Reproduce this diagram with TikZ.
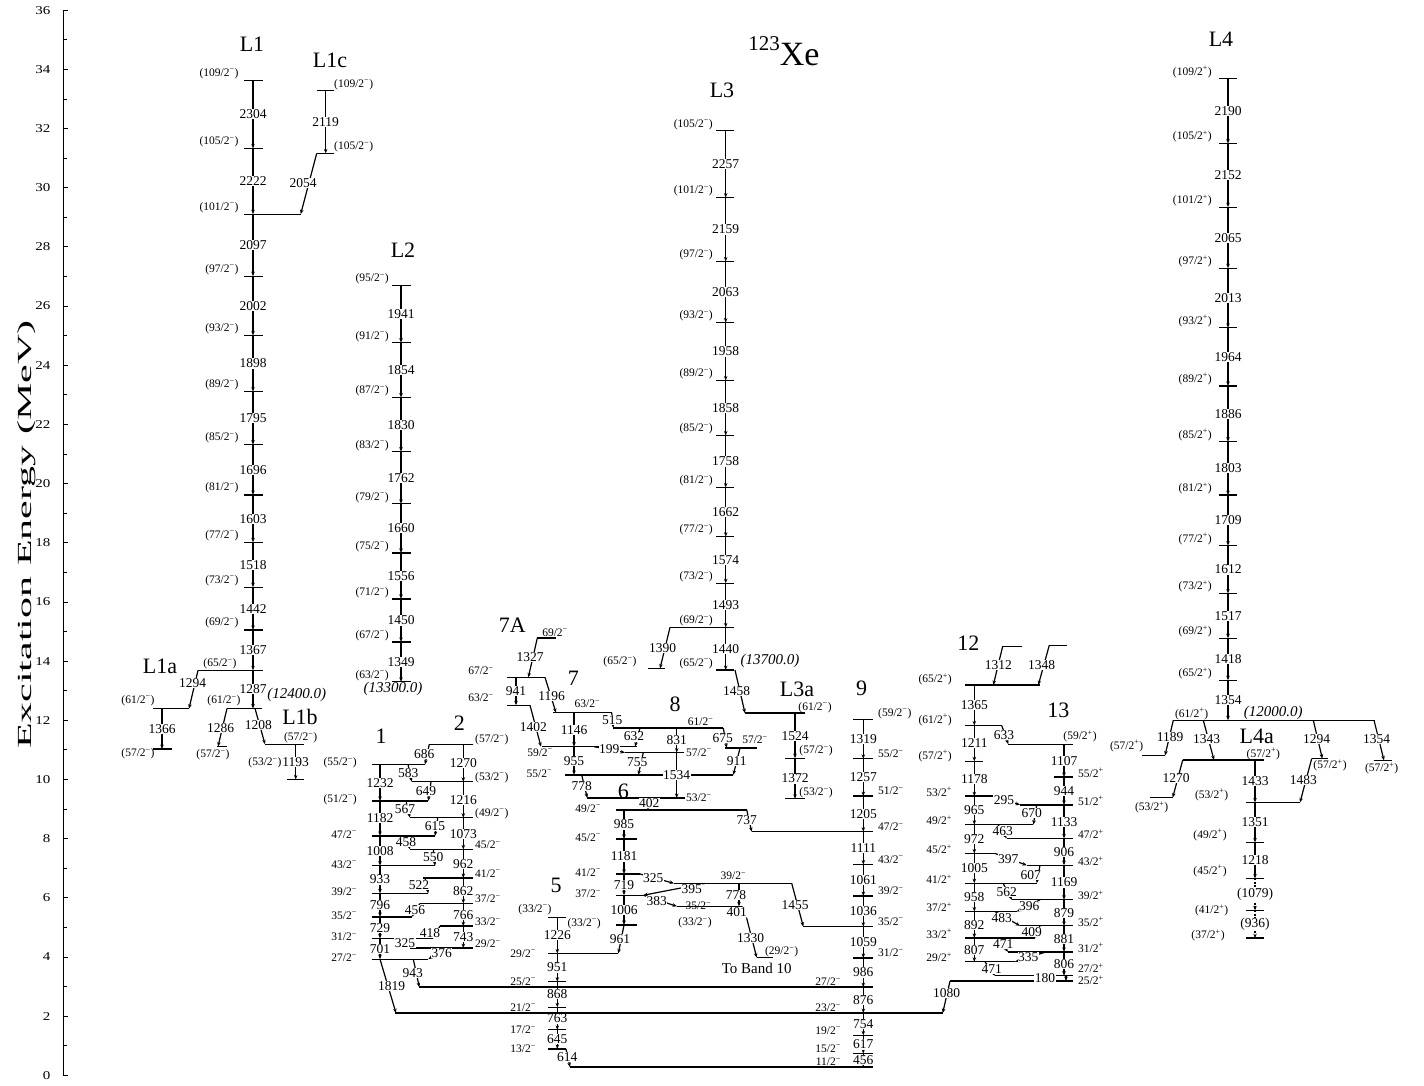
\documentclass[tikz,border=0pt]{standalone}
\usepackage{fontspec}
\setmainfont{Liberation Serif}
\usetikzlibrary{arrows.meta}
\newcommand{\spn}{\textsuperscript{−}}
\newcommand{\spp}{\textsuperscript{+}}
\newcounter{nc}
\pgfdeclarelayer{fg}
\pgfsetlayers{main,fg}
\tikzset{
  every picture/.style={line width=1.2pt},
  lvl/.style={line width=1.3pt},
  gam/.style={line width=1.2pt, -{Stealth[length=4.5pt,width=3.5pt]}},
  tgam/.style={gam, dash pattern=on 2pt off 1.5pt},
  glab/.style={font=\fontsize{13.5}{14}\selectfont, fill=white, inner sep=0.5pt},
  spin/.style={font=\fontsize{11.5}{12}\selectfont, inner sep=1pt},
  bandlab/.style={font=\fontsize{22}{24}\selectfont, inner sep=0pt},
  elab/.style={font=\fontsize{15}{16}\selectfont\itshape, inner sep=0pt},
  ticklab/.style={font=\fontsize{12}{13}\selectfont, inner sep=1pt},
}

\begin{document}
\begin{tikzpicture}[x=1pt, y=29.59pt]
  \useasboundingbox (0,-0.325) rectangle (1424,36.343);
  % level: #1 x-left, #2 x-right, #3 energy
  \newcommand{\lv}[3]{\draw[lvl] (#1,#3) -- (#2,#3);}
  % in-band gamma: #1 x, #2 upper, #3 lower, #4 label
  \newcommand{\gv}[4]{\draw[gam] (#1,#2) -- (#1,#3);
    \stepcounter{nc}\begin{pgfonlayer}{fg}\node[glab] (n\arabic{nc}) at (#1,{(#2+#3)/2}) {#4};\end{pgfonlayer}}
  \newcommand{\gt}[4]{\draw[tgam] (#1,#2) -- (#1,#3);
    \stepcounter{nc}\begin{pgfonlayer}{fg}\node[glab] (n\arabic{nc}) at (#1,{(#2+#3)/2}) {#4};\end{pgfonlayer}}
  % linking gamma: from (#1,#2) to (#3,#4), label #5 at (#6,#7)
  \newcommand{\gx}[7]{\draw[gam] (#1,#2) -- (#3,#4);
    \stepcounter{nc}\begin{pgfonlayer}{fg}\node[glab] (n\arabic{nc}) at (#6,#7) {#5};\end{pgfonlayer}}
  \newcommand{\spL}[3]{\stepcounter{nc}\node[spin, anchor=south east] (n\arabic{nc}) at (#1,#2) {#3};}
  \newcommand{\spR}[3]{\stepcounter{nc}\node[spin, anchor=south west] (n\arabic{nc}) at (#1,#2) {#3};}
  \newcommand{\spC}[3]{\stepcounter{nc}\node[spin] (n\arabic{nc}) at (#1,#2) {#3};}

  % axis
  \draw[line width=1pt] (63,0) -- (63,36);
  \foreach \e in {0,2,...,36} {
    \draw[line width=0.8pt] (63,\e) -- (68,\e);
    \node[ticklab, anchor=east] (t\e) at (52,\e) {\scalebox{1.25}[1]{\e}};
  }
  \foreach \e in {1,3,...,35} \draw[line width=0.8pt] (63,\e) -- (67,\e);
  \node[rotate=90, font=\fontsize{20}{22}\selectfont] (ylab) at (27,18.27) {\scalebox{2.1}[1]{Excitation Energy (MeV)}};
  \node[font=\fontsize{34}{36}\selectfont] (title) at (784,34.6) {\raisebox{0.45em}{\fontsize{21}{22}\selectfont 123}Xe};

  % band names
  \foreach \x/\e/\t in {252/34.85/L1, 330/34.3/L1c, 403/27.9/L2, 722/33.30/L3, 1221/35.0/L4,
      160/13.81/L1a, 300/12.12/L1b, 797/13.06/L3a, 1256.7/11.47/L4a, 381/11.45/1, 459.3/11.9/2,
      556/6.43/5, 623.3/9.59/6, 573.3/13.42/7, 512.3/15.22/7A, 675/12.55/8, 861.7/13.08/9,
      968.3/14.60/12, 1058.3/12.35/13}
    \node[bandlab] (b\t) at (\x,\e) {\t};
  \node[elab] (e124) at (296.7,12.86) {(12400.0)};
  \node[elab] (e133) at (393,13.06) {(13300.0)};
  \node[elab] (e137) at (770,14.0) {(13700.0)};
  \node[elab] (e120) at (1273.3,12.26) {(12000.0)};

  % ---------- L1, L1a, L1b, L1c ----------
  \foreach \e/\j in {15.054/69, 16.496/73, 18.014/77, 19.617/81, 21.313/85, 23.108/89, 25.006/93,
      27.008/97, 29.105/101, 31.327/105, 33.631/109}
    {\lv{244}{263}{\e} \spL{240}{\e}{(\j/2\spn)}}
  \lv{198}{263}{13.687} \lv{226.7}{261.7}{12.4} \lv{263}{301}{29.105}
  \spC{220}{13.90}{(65/2\spn)} \spC{224}{12.66}{(61/2\spn)}
  \foreach \a/\b/\g in {12.4/13.687/1287, 13.687/15.054/1367, 15.054/16.496/1442, 16.496/18.014/1518,
      18.014/19.617/1603, 19.617/21.313/1696, 21.313/23.108/1795, 23.108/25.006/1898,
      25.006/27.008/2002, 27.008/29.105/2097, 29.105/31.327/2222, 31.327/33.631/2304}
    {\gv{253}{\b}{\a}{\g}}
  \lv{316.7}{334}{31.159} \lv{316.7}{334}{33.278}
  \spR{333}{31.159}{(105/2\spn)} \spR{333}{33.278}{(109/2\spn)}
  \gv{325.7}{33.278}{31.159}{2119}
  \gx{316.7}{31.159}{300.7}{29.105}{2054}{303}{30.16}
  \gx{198}{13.687}{189}{12.393}{1294}{192.7}{13.25}
  \lv{153}{189}{12.393} \spC{138}{12.67}{(61/2\spn)}
  \gv{162}{12.393}{11.027}{1366}
  \lv{153}{172}{11.027} \spC{138}{10.86}{(57/2\spn)}
  \gx{227}{12.4}{218}{11.114}{1286}{220.7}{11.73}
  \lv{216.7}{226.7}{11.114} \spC{213}{10.83}{(57/2\spn)}
  \gx{255}{12.4}{265}{11.192}{1208}{258.3}{11.84}
  \lv{265}{304}{11.192} \spC{300.7}{11.41}{(57/2\spn)}
  \gv{295.7}{11.192}{9.999}{1193}
  \lv{286.7}{304}{9.999} \spC{265}{10.56}{(53/2\spn)}

  % ---------- L2 ----------
  \foreach \e/\j in {13.3/63, 14.649/67, 16.099/71, 17.655/75, 19.315/79, 21.077/83, 22.907/87, 24.761/91, 26.702/95}
    {\lv{392.3}{410.7}{\e} \spL{390}{\e}{(\j/2\spn)}}
  \foreach \a/\b/\g in {13.3/14.649/1349, 14.649/16.099/1450, 16.099/17.655/1556, 17.655/19.315/1660,
      19.315/21.077/1762, 21.077/22.907/1830, 22.907/24.761/1854, 24.761/26.702/1941}
    {\gv{401}{\b}{\a}{\g}}

  % ---------- L3, L3a ----------
  \foreach \e/\j in {13.7/65, 16.633/73, 18.207/77, 19.869/81, 21.627/85, 23.485/89, 25.443/93,
      27.506/97, 29.665/101, 31.922/105}
    {\lv{716}{734}{\e} \spL{714}{\e}{(\j/2\spn)}}
  \lv{670}{734}{15.14} \spL{714}{15.14}{(69/2\spn)}
  \foreach \a/\b/\g in {13.7/15.14/1440, 15.14/16.633/1493, 16.633/18.207/1574, 18.207/19.869/1662,
      19.869/21.627/1758, 21.627/23.485/1858, 23.485/25.443/1958, 25.443/27.506/2063,
      27.506/29.665/2159, 29.665/31.922/2257}
    {\gv{725.7}{\b}{\a}{\g}}
  \gx{670}{15.14}{660}{13.75}{1390}{662.7}{14.45}
  \lv{648}{665}{13.75} \spC{620}{13.98}{(65/2\spn)}
  \gx{735}{13.7}{745}{12.242}{1458}{736.7}{13.0}
  \lv{745}{805}{12.242} \spC{815}{12.44}{(61/2\spn)}
  \gv{795}{12.242}{10.718}{1524}
  \lv{785}{805}{10.718} \spC{816}{10.96}{(57/2\spn)}
  \gv{795}{10.718}{9.346}{1372}
  \lv{785}{805}{9.346} \spC{816}{9.55}{(53/2\spn)}

  % ---------- L4, L4a ----------
  \foreach \e/\j in {13.354/65, 14.772/69, 16.289/73, 17.901/77, 19.61/81, 21.413/85, 23.299/89,
      25.263/93, 27.276/97, 29.341/101, 31.493/105, 33.683/109}
    {\lv{1219}{1237}{\e} \spL{1213}{\e}{(\j/2\spp)}}
  \lv{1173.3}{1375}{12.0} \spC{1191.7}{12.21}{(61/2\spp)}
  \foreach \a/\b/\g in {12.0/13.354/1354, 13.354/14.772/1418, 14.772/16.289/1517, 16.289/17.901/1612,
      17.901/19.61/1709, 19.61/21.413/1803, 21.413/23.299/1886, 23.299/25.263/1964,
      25.263/27.276/2013, 27.276/29.341/2065, 29.341/31.493/2152, 31.493/33.683/2190}
    {\gv{1228}{\b}{\a}{\g}}
  \gx{1173.3}{12.0}{1165}{10.811}{1189}{1170}{11.43}
  \lv{1141.7}{1165}{10.811} \spC{1126.7}{11.13}{(57/2\spp)}
  \gx{1203.3}{12.0}{1214}{10.657}{1343}{1206.7}{11.36}
  \lv{1182.7}{1264}{10.657} \spC{1263.3}{10.86}{(57/2\spp)}
  \gx{1313.3}{12.0}{1322.3}{10.706}{1294}{1316.7}{11.36}
  \lv{1311.7}{1328.3}{10.706} \spC{1330}{10.48}{(57/2\spp)}
  \gx{1374}{12.0}{1384}{10.646}{1354}{1376.7}{11.36}
  \lv{1374}{1391.7}{10.646} \spC{1381.7}{10.37}{(57/2\spp)}
  \gx{1182.7}{10.657}{1172.7}{9.387}{1270}{1176}{10.04}
  \lv{1150}{1172.7}{9.387} \spC{1151.7}{9.05}{(53/2\spp)}
  \gx{1311.7}{10.706}{1300}{9.224}{1483}{1303.3}{9.98}
  \lv{1246}{1300}{9.224} \spC{1211.7}{9.48}{(53/2\spp)}
  \gv{1255}{10.657}{9.224}{1433}
  \gv{1255}{9.224}{7.873}{1351}
  \gv{1255}{7.873}{6.655}{1218}
  \gt{1255}{6.655}{5.576}{(1079)}
  \gt{1255}{5.576}{4.640}{(936)}
  \foreach \e in {7.873, 6.655, 5.576, 4.640} \lv{1246}{1264}{\e};
  \spC{1210}{8.12}{(49/2\spp)} \spC{1210}{6.91}{(45/2\spp)}
  \spC{1211.7}{5.57}{(41/2\spp)} \spC{1208}{4.72}{(37/2\spp)}

  % ---------- bands 1 and 2 ----------
  \foreach \e/\r/\s in {3.926/428.3/{27/2\spn}, 4.627/433/{31/2\spn}, 5.356/411.7/{35/2\spn},
      6.152/428.3/{39/2\spn}, 7.085/435/{43/2\spn}, 8.093/435/{47/2\spn},
      9.275/428.3/{(51/2\spn)}, 10.507/425/{(55/2\spn)}}
    {\lv{371.7}{\r}{\e} \stepcounter{nc}\node[spin, anchor=east] (n\arabic{nc}) at (358,\e+0.05) {\s};}
  \foreach \e/\l/\s in {4.302/410/{29/2\spn}, 5.045/440/{33/2\spn}, 5.811/420/{37/2\spn},
      6.673/423/{41/2\spn}, 7.635/410/{45/2\spn}, 8.708/410/{(49/2\spn)},
      9.924/411.7/{(53/2\spn)}, 11.194/429.3/{(57/2\spn)}}
    {\lv{\l}{472.7}{\e} \stepcounter{nc}\node[spin, anchor=west] (n\arabic{nc}) at (474,\e+0.15) {\s};}
  \foreach \a/\b/\g in {3.926/4.627/701, 4.627/5.356/729, 5.356/6.152/796, 6.152/7.085/933,
      7.085/8.093/1008, 8.093/9.275/1182, 9.275/10.507/1232}
    {\gv{380}{\b}{\a}{\g}}
  \foreach \a/\b/\g in {4.302/5.045/743, 5.045/5.811/766, 5.811/6.673/862, 6.673/7.635/962,
      7.635/8.708/1073, 8.708/9.924/1216, 9.924/11.194/1270}
    {\gv{463.3}{\b}{\a}{\g}}
  \gx{429.3}{11.194}{425}{10.507}{686}{424.3}{10.85}
  \gx{408}{10.507}{411.7}{9.924}{583}{408.3}{10.23}
  \gx{431}{9.924}{428.3}{9.275}{649}{426}{9.61}
  \gx{406}{9.275}{410}{8.708}{567}{405}{9.00}
  \gx{437.7}{8.708}{435}{8.093}{615}{435}{8.43}
  \gx{406}{8.093}{410}{7.635}{458}{406}{7.88}
  \gx{433.3}{7.635}{435}{7.085}{550}{433.3}{7.39}
  \gx{425}{6.673}{428.3}{6.152}{522}{419}{6.43}
  \gx{420}{5.811}{411.7}{5.356}{456}{415}{5.59}
  \gx{440}{5.045}{433}{4.627}{418}{430}{4.82}
  \gx{400}{4.627}{410}{4.302}{325}{405}{4.46}
  \gx{445}{4.302}{428.3}{3.926}{376}{441.7}{4.13}
  \gx{413.3}{3.926}{419.3}{2.983}{943}{412.7}{3.45}
  \gx{380}{3.926}{396}{2.107}{1819}{391.7}{3.03}

  % ---------- band 5 ----------
  \foreach \e/\s in {0.894/{13/2\spn}, 1.539/{17/2\spn}, 2.302/{21/2\spn}, 3.170/{25/2\spn}, 4.121/{29/2\spn}}
    {\lv{548.3}{566}{\e} \stepcounter{nc}\node[spin, anchor=east] (n\arabic{nc}) at (537,\e) {\s};}
  \lv{566}{618.3}{4.121} \lv{548.3}{566}{5.347} \spC{535}{5.61}{(33/2\spn)}
  \foreach \a/\b/\g in {0.894/1.539/645, 1.539/2.302/763, 2.302/3.170/868, 3.170/4.121/951, 4.121/5.347/1226}
    {\gv{557.3}{\b}{\a}{\g}}
  \gx{566}{0.894}{570}{0.28}{614}{567.3}{0.61}

  % ---------- band 9 ----------
  \lv{570}{873.3}{0.28} \lv{395}{942.7}{2.107} \lv{419.3}{873.3}{2.983}
  \lv{803.3}{873.3}{5.028} \lv{751.7}{873.3}{8.236}
  \foreach \e/\s in {3.969/{31/2\spn}, 5.028/{35/2\spn}, 6.064/{39/2\spn}, 7.125/{43/2\spn}, 8.236/{47/2\spn},
      9.441/{51/2\spn}, 10.698/{55/2\spn}, 12.017/{(59/2\spn)}}
    {\lv{853.3}{873.3}{\e} \spR{877}{\e}{\s}}
  \foreach \e/\s in {0.28/{11/2\spn}, 0.736/{15/2\spn}, 1.353/{19/2\spn}, 2.107/{23/2\spn}, 2.983/{27/2\spn}}
    {\lv{853.3}{873.3}{\e} \spL{842}{\e}{\s}}
  \foreach \a/\b/\g in {0.28/0.736/456, 0.736/1.353/617, 1.353/2.107/754, 2.107/2.983/876, 2.983/3.969/986,
      3.969/5.028/1059, 5.028/6.064/1036, 6.064/7.125/1061, 7.125/8.236/1111, 8.236/9.441/1205,
      9.441/10.698/1257, 10.698/12.017/1319}
    {\gv{863.3}{\b}{\a}{\g}}

  % ---------- band 6 ----------
  \foreach \e/\r/\s in {5.082/636.7/{(33/2\spn)}, 6.088/643.3/{37/2\spn}, 6.807/640/{41/2\spn},
      7.988/636.7/{45/2\spn}, 8.973/746.7/{49/2\spn}}
    {\lv{616}{\r}{\e} \stepcounter{nc}\node[spin, anchor=east] (n\arabic{nc}) at (602,\e+0.05) {\s};}
  \foreach \a/\b/\g in {5.082/6.088/1006, 6.088/6.807/719, 6.807/7.988/1181, 7.988/8.973/985}
    {\gv{624}{\b}{\a}{\g}}
  \gx{624}{5.082}{618.3}{4.121}{961}{620}{4.6}
  \gx{648}{9.375}{648}{8.973}{402}{649.3}{9.20}
  \gx{746.7}{8.973}{751.7}{8.236}{737}{746.7}{8.63}

  % ---------- band 10 pieces ----------
  \lv{674}{791.7}{6.49} \spC{733.3}{6.74}{39/2\spn}
  \lv{676.7}{742}{5.712} \spC{698.3}{5.72}{35/2\spn}
  \spC{695}{5.16}{(33/2\spn)}
  \gx{739}{6.49}{739}{5.712}{778}{736}{6.10}
  \gx{742}{5.712}{746.7}{5.311}{401}{736.7}{5.51}
  \gx{746.7}{5.311}{756.7}{3.981}{1330}{750.7}{4.63}
  \lv{756.7}{773.3}{3.981} \spC{781.7}{4.18}{(29/2\spn)}
  \node[font=\fontsize{15}{16}\selectfont] (toband) at (756.7,3.62) {To Band 10};
  \gx{791.7}{6.49}{803.3}{5.028}{1455}{795}{5.76}
  \gx{640}{6.807}{674}{6.49}{325}{653.3}{6.66}
  \gx{705}{6.49}{643.3}{6.088}{395}{691.7}{6.29}
  \gx{643.3}{6.088}{677}{5.712}{383}{656.7}{5.90}

  % ---------- bands 7, 7A, 8 ----------
  \lv{565}{733.3}{10.154} \lv{541.7}{637}{11.108} \lv{553.3}{611.7}{12.255}
  \spC{539.3}{10.21}{55/2\spn} \spC{540}{10.91}{59/2\spn} \spC{587.3}{12.55}{63/2\spn}
  \gv{574}{11.108}{10.154}{955} \gv{574}{12.255}{11.108}{1146}
  \lv{586.7}{685}{9.375} \lv{625}{684}{10.909} \lv{613.3}{723.3}{11.740} \lv{725}{756.7}{11.065}
  \spR{685}{9.2}{53/2\spn} \spR{685}{10.74}{57/2\spn}
  \spC{700.7}{11.95}{61/2\spn} \spC{755}{11.33}{57/2\spn}
  \gv{676.7}{10.909}{9.375}{1534} \gv{676.7}{11.740}{10.909}{831}
  \gx{581.7}{10.154}{587.3}{9.375}{778}{581.7}{9.78}
  \gx{611.7}{12.255}{613.3}{11.740}{515}{612.3}{12.01}
  \gx{640}{11.74}{635}{11.108}{632}{634}{11.45}
  \gx{594}{11.108}{625}{10.909}{199}{609.3}{11.02}
  \gx{643.3}{10.909}{638.3}{10.154}{755}{637.3}{10.60}
  \gx{723.3}{11.74}{726.7}{11.065}{675}{722.7}{11.41}
  \gx{740}{11.065}{733.3}{10.154}{911}{736.7}{10.63}
  \lv{507.3}{545}{13.451} \lv{507.3}{530}{12.51} \lv{537.3}{556}{14.778}
  \spC{555}{14.97}{69/2\spn} \spC{481}{13.66}{67/2\spn} \spC{481}{12.75}{63/2\spn}
  \gv{516}{13.451}{12.51}{941}
  \gx{537.3}{14.778}{528.3}{13.451}{1327}{530}{14.13}
  \gx{545}{13.451}{556}{12.255}{1196}{551.7}{12.83}
  \gx{530}{12.51}{541}{11.108}{1402}{533.3}{11.78}

  % ---------- bands 12 and 13 ----------
  \foreach \e/\r/\s in {3.838/1015/{29/2\spp}, 4.645/1035/{33/2\spp}, 5.537/1016.7/{37/2\spp},
      6.495/1036.7/{41/2\spp}, 7.500/995/{45/2\spp}, 8.472/1033.3/{49/2\spp}, 9.437/994/{53/2\spp},
      10.615/983.3/{(57/2\spp)}, 11.826/1001.7/{(61/2\spp)}, 13.191/1040/{(65/2\spp)}}
    {\lv{965}{\r}{\e} \spL{953}{\e-0.05}{\s}}
  \foreach \a/\b/\g in {3.838/4.645/807, 4.645/5.537/892, 5.537/6.495/958, 6.495/7.500/1005,
      7.500/8.472/972, 8.472/9.437/965, 9.437/10.615/1178, 10.615/11.826/1211, 11.826/13.191/1365}
    {\gv{974.3}{\b}{\a}{\g}}
  \lv{1002.7}{1021.7}{14.503} \lv{1049.3}{1067.3}{14.539}
  \gx{1002.7}{14.503}{993.3}{13.191}{1312}{998.3}{13.87}
  \gx{1049.3}{14.539}{1038.3}{13.191}{1348}{1041.7}{13.87}
  \foreach \e/\l in {3.187/950, 3.367/995, 4.173/1008, 5.054/1020, 5.933/1012, 7.102/1026.7,
      8.008/1006.7, 9.141/1020, 10.085/1054, 11.192/1008.3}
    {\lv{\l}{1072.7}{\e}}
  \foreach \e/\s in {4.173/{31/2\spp}, 5.054/{35/2\spp}, 5.933/{39/2\spp}, 7.102/{43/2\spp},
      8.008/{47/2\spp}, 9.141/{51/2\spp}, 10.085/{55/2\spp}}
    {\spR{1077}{\e-0.05}{\s}}
  \stepcounter{nc}\node[spin, anchor=west] (n\arabic{nc}) at (1077,3.62) {27/2\spp};
  \stepcounter{nc}\node[spin, anchor=west] (n\arabic{nc}) at (1077,3.22) {25/2\spp};
  \spC{1080}{11.45}{(59/2\spp)}
  \foreach \a/\b/\g in {3.367/4.173/806, 4.173/5.054/881, 5.054/5.933/879, 5.933/7.102/1169,
      7.102/8.008/906, 8.008/9.141/1133, 9.141/10.085/944, 10.085/11.192/1107}
    {\gv{1064}{\b}{\a}{\g}}
  \gx{1066}{3.367}{1066}{3.187}{180}{1045}{3.28}
  \gx{1001.7}{11.826}{1008.3}{11.192}{633}{1004}{11.51}
  \gx{994}{9.437}{1020}{9.141}{295}{1004}{9.31}
  \gx{1036.7}{9.141}{1033.3}{8.472}{670}{1031.7}{8.86}
  \gx{998}{8.472}{1006.7}{8.008}{463}{1002.7}{8.27}
  \gx{995}{7.5}{1026.7}{7.102}{397}{1008.3}{7.30}
  \gx{1040}{7.102}{1036.7}{6.495}{607}{1030.7}{6.77}
  \gx{1003}{6.495}{1012}{5.933}{562}{1006.7}{6.21}
  \gx{1040}{5.933}{1016.7}{5.537}{396}{1029.3}{5.72}
  \gx{995}{5.537}{1020}{5.054}{483}{1001.7}{5.31}
  \gx{1040}{5.054}{1035}{4.645}{409}{1031.7}{4.86}
  \gx{998}{4.645}{1008}{4.173}{471}{1003.3}{4.44}
  \gx{1046}{4.173}{1015}{3.838}{335}{1028.3}{3.99}
  \gx{985}{3.838}{995}{3.367}{471}{991.7}{3.61}
  \gx{950}{3.187}{942.7}{2.107}{1080}{946.7}{2.79}
\end{tikzpicture}
\end{document}
